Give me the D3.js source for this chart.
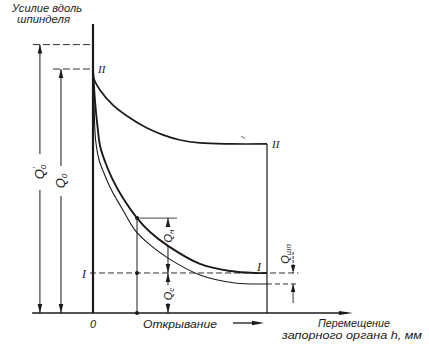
<!DOCTYPE html>
<html>
<head>
<meta charset="utf-8">
<script src="https://cdn.jsdelivr.net/npm/d3@7"></script>
<style>
  html, body { margin: 0; padding: 0; background: #fff; }
  svg { display: block; }
  text { fill: #1a1a1a; font-family: "Liberation Sans", "DejaVu Sans", sans-serif; font-style: italic; }
  .roman { font-family: "Liberation Serif", "DejaVu Serif", serif; }
</style>
</head>
<body>
<svg id="chart" width="429" height="348"></svg>
<script>
// Spindle force vs. stroke of the closing member, h (mm); force in % of Q0.
// Curve II — upper characteristic
const hII = [0, 0.03, 0.4, 1.15, 2.13, 3.1, 4.02, 5.0, 6.15, 7.9, 10];
const fII = [100, 96.5, 91.4, 85.2, 79.9, 75.8, 73.0, 70.9, 69.7, 69.3, 69.3];
// Curve I — upper branch (heavy line)
const hI = [0, 0.11, 0.25, 0.42, 0.7, 1.09, 1.72, 2.53, 3.28, 4.31, 6.15, 7.87, 9.31, 10];
const fI = [100, 87.3, 77.0, 68.0, 61.9, 55.3, 47.1, 38.9, 33.2, 27.5, 20.1, 17.2, 16.4, 16.4];
// Curve I — lower branch (light line)
const hIb = [0, 0.06, 0.15, 0.35, 0.65, 1.09, 1.72, 2.41, 3.28, 4.31, 6.15, 8.16, 10];
const fIb = [100, 85.2, 70.9, 62.7, 57.0, 50.0, 42.2, 34.0, 27.9, 22.5, 15.6, 12.3, 11.9];

// Force levels
const Q0 = 100;        // initial force Q0
const Q0p = 110;       // initial force Q0'
const Qseal = 16.4;    // end level of curve I (dashed line I)
const Qend = 11.9;     // end level of lower branch
const hEnd = 10;       // full opening
const markH = 2.53;    // marked point on curve I
const markF = 38.9;

const svg = d3.select("#chart");
const x = d3.scaleLinear().domain([0, 10]).range([93, 267]);
const y = d3.scaleLinear().domain([0, 100]).range([313, 69]);
const ink = "#1a1a1a";

function seg(x1, y1, x2, y2, w, dash, col) {
  const l = svg.append("line")
    .attr("x1", x(x1)).attr("y1", y(y1)).attr("x2", x(x2)).attr("y2", y(y2))
    .attr("stroke", col || ink).attr("stroke-width", w);
  if (dash) l.attr("stroke-dasharray", dash);
  return l;
}
// filled arrowhead, tip at data point, dir: +1 pointing down, -1 pointing up
function headV(h, f, dir, len, hw) {
  const px = x(h), py = y(f);
  len = len || 9; hw = hw || 2.3;
  svg.append("path")
    .attr("d", `M${px},${py} L${px - hw},${py - dir * len} L${px + hw},${py - dir * len} Z`)
    .attr("fill", ink);
}
// vertical dimension with a rotated label placed in a gap
function dimension(h, fTop, fBot, labelPy, gap, parts, fontSize) {
  const px = x(h);
  const yt = y(fTop), yb = y(fBot);
  svg.append("line").attr("x1", px).attr("x2", px).attr("y1", yt).attr("y2", labelPy - gap / 2)
    .attr("stroke", ink).attr("stroke-width", 1);
  svg.append("line").attr("x1", px).attr("x2", px).attr("y1", labelPy + gap / 2).attr("y2", yb)
    .attr("stroke", ink).attr("stroke-width", 1);
  headV(h, fTop, -1);
  headV(h, fBot, 1);
  label(px, labelPy, parts, fontSize);
}
function label(px, py, parts, fontSize) {
  const t = svg.append("text")
    .attr("transform", `translate(${px + 4},${py}) rotate(-90)`)
    .attr("text-anchor", "middle")
    .attr("font-size", fontSize || 12);
  parts.forEach(p => {
    const ts = t.append("tspan").text(p.t);
    if (p.sub) ts.attr("font-size", 8).attr("dy", p.dy || 2);
    if (p.sup) ts.attr("font-size", 8).attr("dy", p.dy || -6);
    if (p.dx) ts.attr("dx", p.dx);
  });
}

// --- axes ---
seg(0, 0, 0, 118.4, 2.2);                         // vertical force axis
seg(-3.5, 0, 14.6, 0, 1.4);                       // baseline
svg.append("path")
  .attr("d", `M${x(14.94)},${y(0)} L${x(14.94) - 14},${y(0) - 2} L${x(14.94) - 14},${y(0) + 2} Z`)
  .attr("fill", ink);

// --- curves ---
const line = d3.line().x(d => x(d[0])).y(d => y(d[1])).curve(d3.curveCatmullRom.alpha(0.5));
svg.append("path").datum(d3.zip(hII, fII)).attr("d", line)
  .attr("fill", "none").attr("stroke", ink).attr("stroke-width", 1.7);
svg.append("path").datum(d3.zip(hI, fI)).attr("d", line)
  .attr("fill", "none").attr("stroke", ink).attr("stroke-width", 1.9);
svg.append("path").datum(d3.zip(hIb, fIb)).attr("d", line)
  .attr("fill", "none").attr("stroke", ink).attr("stroke-width", 1.1);

// end of stroke (vertical at full opening)
seg(hEnd, fII[fII.length - 1], hEnd, 0, 1.2);
// small tick above curve II
seg(8.5, 72.5, 8.75, 71.5, 0.8, null, "#555");

// --- dashed levels ---
seg(-3.45, Q0p, 0, Q0p, 0.9, "7,3");
seg(-2.3, Q0, 0, Q0, 0.9, "7,3");
seg(-0.17, Qseal, 11.8, Qseal, 0.9, "6,3");
seg(hEnd, Qend, 11.8, Qend, 0.9, "5,3");

// --- dimensions Q0', Q0 ---
dimension(-3.05, Q0p, 0, 172, 36, [{t: "Q"}, {t: "0", sub: true, dy: 2}, {t: "'", sup: true, dy: -8, dx: -4}], 13);
dimension(-1.84, Q0, 0, 181, 30, [{t: "Q"}, {t: "0", sub: true, dy: 2}], 13);

// --- marked point and its dimensions ---
seg(markH, markF, markH, 0, 1);
seg(markH, markF, 4.83, markF, 0.9, null, "#333");
[markF, Qseal, 0].forEach(f => {
  svg.append("circle").attr("cx", x(markH)).attr("cy", y(f)).attr("r", 2).attr("fill", ink);
});
dimension(4.31, markF, Qseal, 236, 20, [{t: "Q"}, {t: "н", sub: true, dy: 2}], 11);
dimension(4.31, Qseal, 0, 294, 18, [{t: "Q"}, {t: "c", sub: true, dy: 2}], 11);

// --- Qшп dimension ---
seg(11.5, 25, 11.5, Qseal, 0.9, "3,1");
seg(11.5, 4.1, 11.5, Qend, 0.9);
headV(11.5, Qseal, 1, 8, 2.2);
headV(11.5, Qend, -1, 8, 2.2);
label(x(11.5) - 8, 254, [{t: "Q"}, {t: "шп", sub: true, dy: 2}], 11);

// --- roman labels ---
svg.append("text").attr("class", "roman").attr("x", 98).attr("y", 73).attr("font-size", 11).text("II");
svg.append("text").attr("class", "roman").attr("x", 272).attr("y", 148).attr("font-size", 11).text("II");
svg.append("text").attr("class", "roman").attr("x", 257).attr("y", 271).attr("font-size", 12).text("I");
svg.append("text").attr("class", "roman").attr("x", 82).attr("y", 278).attr("font-size", 12).text("I");

// --- captions ---
svg.append("text").attr("x", 12).attr("y", 12).attr("font-size", 11)
  .attr("textLength", 70).attr("lengthAdjust", "spacingAndGlyphs").text("Усилие вдоль");
svg.append("text").attr("x", 17).attr("y", 23).attr("font-size", 11)
  .attr("textLength", 53).attr("lengthAdjust", "spacingAndGlyphs").text("шпинделя");
svg.append("text").attr("x", 93).attr("y", 328).attr("font-size", 11).attr("text-anchor", "middle").text("0");
svg.append("text").attr("x", 143).attr("y", 328).attr("font-size", 11)
  .attr("textLength", 74).attr("lengthAdjust", "spacingAndGlyphs").text("Открывание");
// direction arrow
svg.append("line").attr("x1", 233).attr("x2", 255).attr("y1", 323).attr("y2", 323)
  .attr("stroke", ink).attr("stroke-width", 1.3);
svg.append("path").attr("d", "M264,323 L252,320.8 L252,325.2 Z").attr("fill", ink);
svg.append("text").attr("x", 318).attr("y", 327).attr("font-size", 10)
  .attr("textLength", 72).attr("lengthAdjust", "spacingAndGlyphs").text("Перемещение");
svg.append("text").attr("x", 282).attr("y", 339).attr("font-size", 10)
  .attr("textLength", 140).attr("lengthAdjust", "spacingAndGlyphs").text("запорного органа h, мм");
</script>
</body>
</html>
